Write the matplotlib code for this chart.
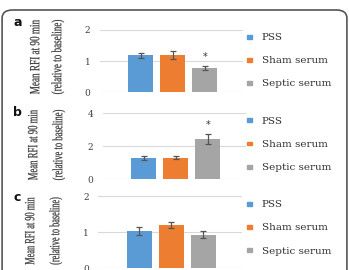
import matplotlib.pyplot as plt
from matplotlib.patches import FancyBboxPatch, PathPatch
from matplotlib.textpath import TextPath
from matplotlib.font_manager import FontProperties
from matplotlib.transforms import Affine2D, IdentityTransform

# Data
groups = ['PSS', 'Sham serum', 'Septic serum']
colors = ['#5B9BD5', '#ED7D31', '#A5A5A5']

panel_labels = ['a', 'b', 'c']
means_a = [1.18, 1.20, 0.78]
errs_a = [0.07, 0.12, 0.06]
means_b = [1.30, 1.30, 2.42]
errs_b = [0.12, 0.09, 0.32]
means_c = [1.03, 1.20, 0.93]
errs_c = [0.10, 0.09, 0.10]
ymax = [2, 4, 2]
yticks = [[0, 1, 2], [0, 2, 4], [0, 1, 2]]
star = [True, True, False]
ylabel_lines = ['Mean RFI at 90 min', '(relative to baseline)']

serif = 'Liberation Serif'
wide_serif = 'DejaVu Serif'

W, H = 349, 270
fig = plt.figure(figsize=(W / 100, H / 100), dpi=100)


def condensed_text(s, cx, cy, length, size=14):
    """Draw rotated, horizontally squeezed text centred at pixel (cx, cy) from top-left."""
    tp = TextPath((0, 0), s, size=size, prop=FontProperties(family=serif))
    bb = tp.get_extents()
    tr = (Affine2D().translate(-(bb.x0 + bb.width / 2), -size * 0.3)
          .scale(length / bb.width, 1.0)
          .rotate_deg(90)
          .translate(cx, H - cy))
    patch = PathPatch(tr.transform_path(tp), transform=IdentityTransform(),
                      facecolor='#383838', edgecolor='#383838', linewidth=0.15)
    fig.add_artist(patch)


# axes boxes in figure fractions: left, bottom, width, height
boxes = [
    (0.287, 0.659, 0.41, 0.230),
    (0.295, 0.337, 0.41, 0.244),
    (0.282, 0.007, 0.41, 0.267),
]
label_y = [0.915, 0.585, 0.267]
ylab_cy = [57, 145, 231]
ylab_x = [(35, 57), (33, 58), (30, 55)]
ylab_len = [74, 70, 67]
all_means = [means_a, means_b, means_c]
all_errs = [errs_a, errs_b, errs_c]

for i in range(3):
    ax = fig.add_axes(boxes[i])
    x = range(len(groups))
    ax.bar(x, all_means[i], width=0.78, color=colors, zorder=3)
    ax.errorbar(x, all_means[i], yerr=all_errs[i], fmt='none', ecolor='#555555',
                elinewidth=0.9, capsize=2, capthick=0.9, zorder=4)
    if star[i]:
        ax.text(2, all_means[i][2] + all_errs[i][2] + ymax[i] * 0.14, '*',
                ha='center', va='center', fontsize=7, color='#333333')
    ax.set_xlim(-1.27, 3.2)
    ax.set_ylim(0, ymax[i])
    ax.set_yticks(yticks[i])
    ax.set_yticklabels([str(t) for t in yticks[i]], family=wide_serif, fontsize=6.5,
                       color='#404040')
    ax.set_xticks([])
    ax.tick_params(axis='y', length=0, pad=7)
    for s in ax.spines.values():
        s.set_visible(False)
    ax.grid(axis='y', color='#D9D9D9', linewidth=0.8, zorder=0)
    ax.set_axisbelow(True)

    # two-line y label, tall and narrow like the original
    for k, line in enumerate(ylabel_lines):
        condensed_text(line, ylab_x[i][k], ylab_cy[i], ylab_len[i])
    fig.text(0.05, label_y[i], panel_labels[i], ha='center', va='center',
             fontsize=9, fontweight='bold', color='#111111')

    # legend
    leg_top = boxes[i][1] + boxes[i][3] * 0.88
    for j, g in enumerate(groups):
        yy = leg_top - j * 0.086
        fig.patches.append(plt.Rectangle((0.707, yy - 0.004), 0.014, 0.014,
                                         transform=fig.transFigure, color=colors[j]))
        fig.text(0.75, yy, g, ha='left', va='center', family=wide_serif,
                 fontsize=7.5, color='#333333')

# rounded border (bottom is cut off in the original)
border = FancyBboxPatch((0.006, -0.1), 0.988, 1.063, boxstyle='round,pad=0,rounding_size=0.03',
                        transform=fig.transFigure, fill=False, edgecolor='#555555',
                        linewidth=1.2, clip_on=False)
fig.patches.append(border)

plt.savefig('out.png', dpi=100)
